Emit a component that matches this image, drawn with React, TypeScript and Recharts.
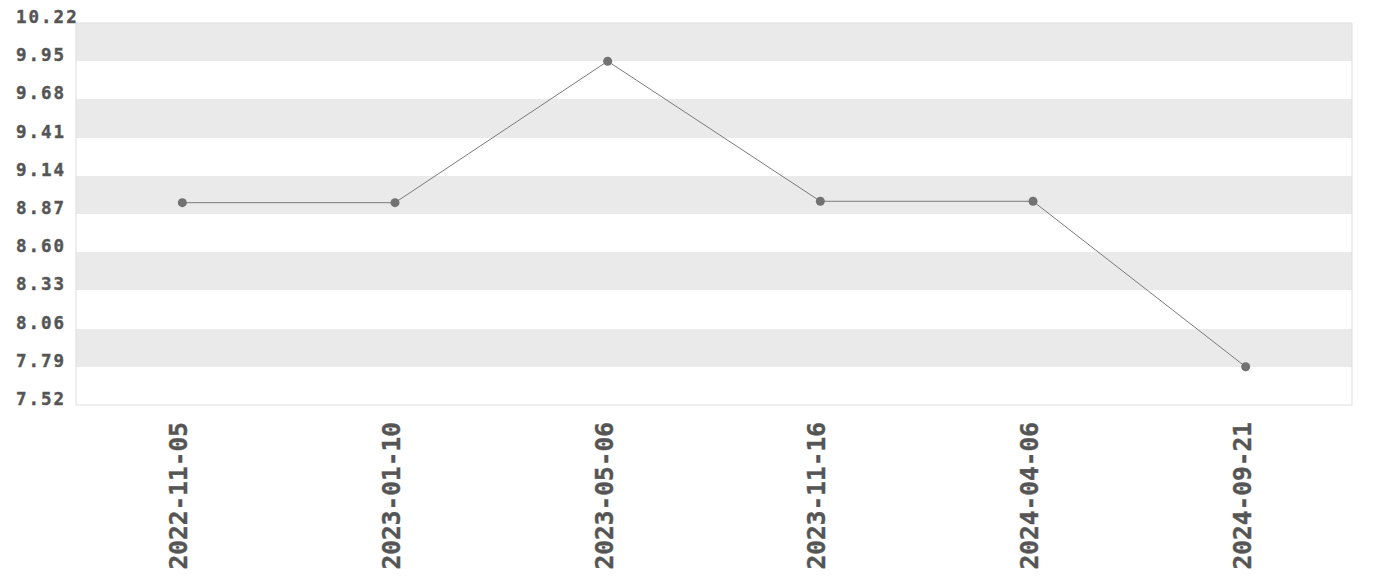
import { LineChart, Line, XAxis, YAxis, CartesianGrid, ReferenceArea } from 'recharts';

const dates = ['2022-11-05', '2023-01-10', '2023-05-06', '2023-11-16', '2024-04-06', '2024-09-21'];
const values = [8.95, 8.95, 9.95, 8.96, 8.96, 7.79];
const yTicks = [7.52, 7.79, 8.06, 8.33, 8.6, 8.87, 9.14, 9.41, 9.68, 9.95, 10.22];

const data = dates.map((date, i) => ({ date, value: values[i] }));

const FONT = '"DejaVu Sans Mono", monospace';
const INK = '#555';

// y labels sit left-aligned with their baseline on the tick
const YTick = ({ y, payload }: any) => (
  <text
    x={16}
    y={y}
    fill={INK}
    stroke={INK}
    strokeWidth={0.4}
    fontFamily={FONT}
    fontWeight="bold"
    fontSize={17.5}
    letterSpacing={2}
    textAnchor="start"
  >
    {Number(payload.value).toFixed(2)}
  </text>
);

// dates read bottom-to-top, hanging from just under the plot
const XTick = ({ x, y, payload }: any) => (
  <g transform={`translate(${x + 5},${y + 9})`}>
    <text
      transform="rotate(-90)"
      fill={INK}
      stroke={INK}
      strokeWidth={0.4}
      fontFamily={FONT}
      fontWeight="bold"
      fontSize={24.5}
      textAnchor="end"
    >
      {payload.value}
    </text>
  </g>
);

export default function App() {
  return (
    <div style={{ position: 'absolute', left: 0, top: 0, width: 1380, height: 580, background: '#fff' }}>
      <LineChart width={1380} height={580} data={data} margin={{ top: 23, right: 28, bottom: 0, left: 16 }}>
        <CartesianGrid stroke="none" horizontalFill={['#eaeaea', '#ffffff']} vertical={false} />
        <XAxis dataKey="date" scale="band" height={175} tick={<XTick />} tickLine={false} axisLine={false} interval={0} />
        <YAxis
          width={60}
          domain={[7.52, 10.22]}
          ticks={yTicks}
          tick={<YTick />}
          tickLine={false}
          axisLine={false}
          interval={0}
        />
        <ReferenceArea y1={7.52} y2={10.22} fill="none" stroke="#dddddd" strokeWidth={1} />
        <Line
          type="linear"
          dataKey="value"
          stroke="#7a7a7a"
          strokeWidth={1}
          dot={{ r: 4.5, fill: '#727272', stroke: 'none' }}
          activeDot={false}
          isAnimationActive={false}
        />
      </LineChart>
    </div>
  );
}
